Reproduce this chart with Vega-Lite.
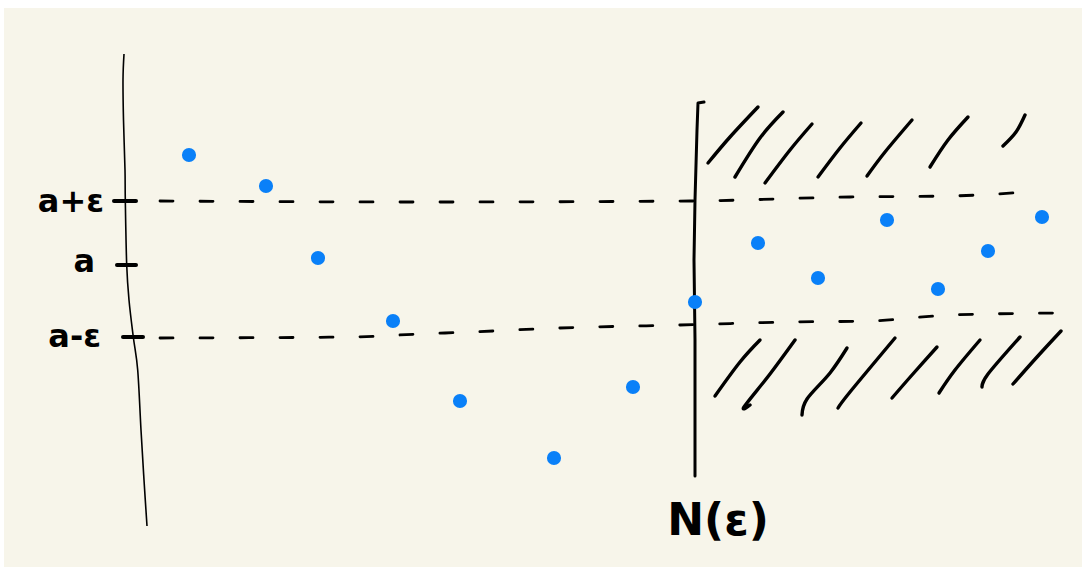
{
  "$schema": "https://vega.github.io/schema/vega-lite/v6.json",
  "width": 1078,
  "height": 559,
  "autosize": "none",
  "padding": {"left": 4, "top": 8, "right": 0, "bottom": 0},
  "background": "#ffffff",
  "config": {"view": {"fill": "#f7f5ea", "stroke": null}},
  "encoding": {
    "x": {"field": "x", "type": "quantitative", "scale": {"domain": [0, 107.8], "nice": false, "zero": false}, "axis": null},
    "y": {"field": "y", "type": "quantitative", "scale": {"domain": [-30.2, 25.7], "nice": false, "zero": false}, "axis": null}
  },
  "layer": [
    {
      "description": "hand-drawn vertical axis",
      "data": {"values": [
        {"o": 0, "x": 12.0, "y": 21.1},
        {"o": 1, "x": 11.9, "y": 18.5},
        {"o": 2, "x": 11.95, "y": 14.5},
        {"o": 3, "x": 12.1, "y": 9.5},
        {"o": 4, "x": 12.13, "y": 6.5},
        {"o": 5, "x": 12.27, "y": 0},
        {"o": 6, "x": 12.5, "y": -3.5},
        {"o": 7, "x": 12.93, "y": -7.2},
        {"o": 8, "x": 13.37, "y": -10.5},
        {"o": 9, "x": 13.7, "y": -16.5},
        {"o": 10, "x": 14.0, "y": -21.5},
        {"o": 11, "x": 14.3, "y": -26.1}
      ]},
      "mark": {"type": "line", "color": "#000000", "strokeWidth": 1.6, "interpolate": "cardinal"},
      "encoding": {"order": {"field": "o", "type": "quantitative"}}
    },
    {
      "description": "tick marks on the axis",
      "data": {"values": [
        {"x": 11.0, "x2": 13.2, "y": 6.4},
        {"x": 11.3, "x2": 13.2, "y": 0},
        {"x": 11.9, "x2": 13.9, "y": -7.2}
      ]},
      "mark": {"type": "rule", "color": "#000000", "strokeWidth": 4, "strokeCap": "round"},
      "encoding": {"x2": {"field": "x2"}}
    },
    {
      "description": "dashed bands at a+eps and a-eps",
      "data": {"values": [
        {"id": "up", "o": 0, "x": 15.6, "y": 6.4},
        {"id": "up", "o": 1, "x": 41.6, "y": 6.3},
        {"id": "up", "o": 2, "x": 68.6, "y": 6.4},
        {"id": "up", "o": 3, "x": 84.6, "y": 6.8},
        {"id": "up", "o": 4, "x": 94.6, "y": 6.9},
        {"id": "up", "o": 5, "x": 102.3, "y": 7.3},
        {"id": "lo", "o": 0, "x": 15.6, "y": -7.3},
        {"id": "lo", "o": 1, "x": 34.6, "y": -7.2},
        {"id": "lo", "o": 2, "x": 41.6, "y": -6.9},
        {"id": "lo", "o": 3, "x": 46.6, "y": -6.7},
        {"id": "lo", "o": 4, "x": 55.6, "y": -6.3},
        {"id": "lo", "o": 5, "x": 67.6, "y": -6.0},
        {"id": "lo", "o": 6, "x": 78.6, "y": -5.7},
        {"id": "lo", "o": 7, "x": 86.6, "y": -5.6},
        {"id": "lo", "o": 8, "x": 94.6, "y": -5.0},
        {"id": "lo", "o": 9, "x": 105.8, "y": -4.8}
      ]},
      "mark": {"type": "line", "color": "#000000", "strokeWidth": 2.8, "strokeDash": [13, 27], "strokeCap": "round", "interpolate": "monotone"},
      "encoding": {"detail": {"field": "id"}, "order": {"field": "o", "type": "quantitative"}}
    },
    {
      "description": "vertical line at N(eps)",
      "data": {"values": [
        {"o": 0, "x": 70.0, "y": 16.3},
        {"o": 1, "x": 69.4, "y": 16.2},
        {"o": 2, "x": 69.3, "y": 13.5},
        {"o": 3, "x": 69.1, "y": 6.5},
        {"o": 4, "x": 69.0, "y": 0.5},
        {"o": 5, "x": 69.1, "y": -7.5},
        {"o": 6, "x": 69.1, "y": -21.1}
      ]},
      "mark": {"type": "line", "color": "#000000", "strokeWidth": 3, "strokeCap": "round", "strokeJoin": "round"},
      "encoding": {"order": {"field": "o", "type": "quantitative"}}
    },
    {
      "description": "hatching outside the eps band",
      "data": {"values": [
        {"id": "h1", "o": 0, "x": 70.4, "y": 10.2}, {"id": "h1", "o": 1, "x": 72.6, "y": 12.8}, {"id": "h1", "o": 2, "x": 75.4, "y": 15.8},
        {"id": "h2", "o": 0, "x": 73.1, "y": 8.8}, {"id": "h2", "o": 1, "x": 75.6, "y": 12.7}, {"id": "h2", "o": 2, "x": 77.9, "y": 15.3},
        {"id": "h3", "o": 0, "x": 76.1, "y": 8.2}, {"id": "h3", "o": 1, "x": 78.6, "y": 11.5}, {"id": "h3", "o": 2, "x": 80.8, "y": 14.1},
        {"id": "h4", "o": 0, "x": 81.4, "y": 8.8}, {"id": "h4", "o": 1, "x": 83.6, "y": 11.7}, {"id": "h4", "o": 2, "x": 85.7, "y": 14.2},
        {"id": "h5", "o": 0, "x": 86.3, "y": 8.9}, {"id": "h5", "o": 1, "x": 88.1, "y": 11.3}, {"id": "h5", "o": 2, "x": 90.8, "y": 14.5},
        {"id": "h6", "o": 0, "x": 92.6, "y": 9.8}, {"id": "h6", "o": 1, "x": 94.4, "y": 12.5}, {"id": "h6", "o": 2, "x": 96.4, "y": 14.8},
        {"id": "h7", "o": 0, "x": 99.9, "y": 11.9}, {"id": "h7", "o": 1, "x": 101.2, "y": 13.3}, {"id": "h7", "o": 2, "x": 102.1, "y": 15.0},
        {"id": "l1", "o": 0, "x": 71.1, "y": -13.1}, {"id": "l1", "o": 1, "x": 73.6, "y": -9.7}, {"id": "l1", "o": 2, "x": 75.6, "y": -7.5},
        {"id": "l2", "o": 0, "x": 74.6, "y": -14.0}, {"id": "l2", "o": 1, "x": 74.0, "y": -14.2}, {"id": "l2", "o": 2, "x": 76.6, "y": -10.9}, {"id": "l2", "o": 3, "x": 79.1, "y": -7.5},
        {"id": "l3", "o": 0, "x": 79.8, "y": -15.0}, {"id": "l3", "o": 1, "x": 80.3, "y": -13.4}, {"id": "l3", "o": 2, "x": 82.6, "y": -10.8}, {"id": "l3", "o": 3, "x": 84.3, "y": -8.3},
        {"id": "l4", "o": 0, "x": 83.4, "y": -14.3}, {"id": "l4", "o": 1, "x": 84.6, "y": -12.7}, {"id": "l4", "o": 2, "x": 89.1, "y": -7.3},
        {"id": "l5", "o": 0, "x": 88.8, "y": -13.3}, {"id": "l5", "o": 1, "x": 90.8, "y": -11.0}, {"id": "l5", "o": 2, "x": 93.3, "y": -8.2},
        {"id": "l6", "o": 0, "x": 93.5, "y": -12.8}, {"id": "l6", "o": 1, "x": 95.1, "y": -10.5}, {"id": "l6", "o": 2, "x": 97.6, "y": -7.5},
        {"id": "l7", "o": 0, "x": 97.8, "y": -12.2}, {"id": "l7", "o": 1, "x": 98.4, "y": -10.9}, {"id": "l7", "o": 2, "x": 101.6, "y": -7.2},
        {"id": "l8", "o": 0, "x": 100.9, "y": -11.9}, {"id": "l8", "o": 1, "x": 103.3, "y": -9.2}, {"id": "l8", "o": 2, "x": 105.7, "y": -6.6}
      ]},
      "mark": {"type": "line", "color": "#000000", "strokeWidth": 3.4, "strokeCap": "round", "strokeJoin": "round", "interpolate": "cardinal"},
      "encoding": {"detail": {"field": "id"}, "order": {"field": "o", "type": "quantitative"}}
    },
    {
      "description": "terms of the sequence",
      "data": {"values": [
        {"n": 1, "x": 18.5, "y": 11.0},
        {"n": 2, "x": 26.2, "y": 7.9},
        {"n": 3, "x": 31.4, "y": 0.7},
        {"n": 4, "x": 38.9, "y": -5.6},
        {"n": 5, "x": 45.6, "y": -13.6},
        {"n": 6, "x": 55.0, "y": -19.3},
        {"n": 7, "x": 62.9, "y": -12.2},
        {"n": 8, "x": 69.1, "y": -3.7},
        {"n": 9, "x": 75.4, "y": 2.2},
        {"n": 10, "x": 81.4, "y": -1.3},
        {"n": 11, "x": 88.3, "y": 4.5},
        {"n": 12, "x": 93.4, "y": -2.4},
        {"n": 13, "x": 98.4, "y": 1.4},
        {"n": 14, "x": 103.8, "y": 4.8}
      ]},
      "mark": {"type": "circle", "color": "#0a80f8", "opacity": 1, "size": 200}
    },
    {
      "description": "axis labels",
      "data": {"values": [
        {"t": "a+ε", "x": 10.0, "y": 5.3},
        {"t": "a", "x": 9.1, "y": -0.7},
        {"t": "a-ε", "x": 9.7, "y": -8.2}
      ]},
      "mark": {"type": "text", "align": "right", "baseline": "alphabetic", "font": "DejaVu Sans", "fontWeight": "bold", "fontSize": 32, "color": "#000000"},
      "encoding": {"text": {"field": "t"}}
    },
    {
      "description": "label under the vertical line",
      "data": {"values": [{"t": "N(ε)", "x": 71.4, "y": -27.0}]},
      "mark": {"type": "text", "align": "center", "baseline": "alphabetic", "font": "DejaVu Sans", "fontWeight": "bold", "fontSize": 44, "color": "#000000"},
      "encoding": {"text": {"field": "t"}}
    }
  ]
}
